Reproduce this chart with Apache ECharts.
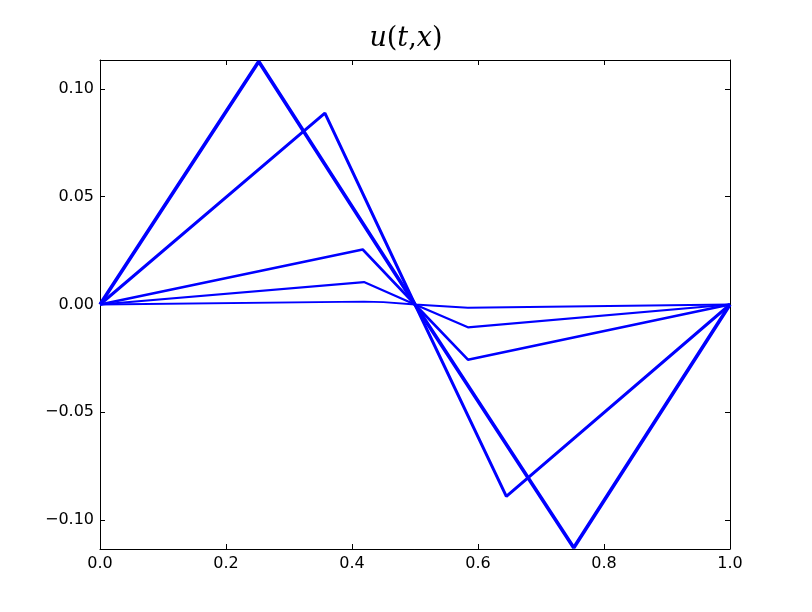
<!DOCTYPE html>
<html><head><meta charset="utf-8">
<script src="https://cdn.jsdelivr.net/npm/echarts@6/dist/echarts.min.js"></script>
<style>html,body{margin:0;padding:0;background:#fff}#c{width:812px;height:612px}</style>
</head><body><div id="c"></div>
<script>
const xTicks = [0, 0.2, 0.4, 0.6, 0.8, 1.0];
const yTicks = [-0.10, -0.05, 0.00, 0.05, 0.10];
const line1 = [[0,0],[0.252,0.1127],[0.5,0],[0.752,-0.1128],[1,0]];
const line2 = [[0,0],[0.357,0.0888],[0.5,0],[0.645,-0.0890],[1,0]];
const line3 = [[0,0],[0.417,0.0255],[0.5,0],[0.584,-0.0256],[1,0]];
const line4 = [[0,0],[0.419,0.0104],[0.5,0],[0.584,-0.0106],[1,0]];
const line5 = [[0,0],[0.419,0.0013],[0.45,0.0011],[0.5,0],[0.584,-0.0015],[1,0]];
const lines = [line1, line2, line3, line4, line5];
const widths = [3.6, 3, 2.6, 2.2, 1.8];
const fmtY = v => (v < 0 ? '\u2212' : '') + Math.abs(v).toFixed(2);
const fmtX = v => v.toFixed(1);
const font = 'DejaVu Sans';
const axLine = {show:true, onZero:false, lineStyle:{color:'#000', width:1}};
const tick = {show:true, inside:true, length:5, lineStyle:{color:'#000'}};
const chart = echarts.init(document.getElementById('c'));
chart.setOption({
  animation:false,
  title:{text:'{i|u}{n|(}{i|t}{n|,}{i|x}{n|)}', left:'center', top:20,
    textStyle:{fontWeight:'normal', rich:{i:{fontFamily:'DejaVu Serif',fontStyle:'italic',fontWeight:'normal',fontSize:27,color:'#000'},
                     n:{fontFamily:'DejaVu Serif',fontWeight:'normal',fontSize:27,color:'#000'}}}},
  grid:{left:100, right:82, top:60, bottom:63},
  xAxis:[
    {type:'value', min:0, max:1, interval:0.2, axisLine:axLine, axisTick:tick, splitLine:{show:false},
     axisLabel:{formatter:fmtX, color:'#000', fontFamily:font, fontSize:16, margin:7}},
    {type:'value', position:'top', min:0, max:1, interval:0.2, axisLine:axLine, axisTick:tick, splitLine:{show:false},
     axisLabel:{show:false}}
  ],
  yAxis:[
    {type:'value', min:-0.1134, max:0.1134, axisLine:axLine,
     axisTick:Object.assign({}, tick, {customValues:yTicks}), splitLine:{show:false},
     axisLabel:{customValues:yTicks, formatter:fmtY, color:'#000', fontFamily:font, fontSize:16, margin:6}},
    {type:'value', position:'right', min:-0.1134, max:0.1134, axisLine:axLine,
     axisTick:Object.assign({}, tick, {customValues:yTicks}), splitLine:{show:false},
     axisLabel:{show:false}}
  ],
  series: lines.map((d,i)=>({type:'line', data:d, showSymbol:false, symbol:'none',
    lineStyle:{color:'#0000ff', width:widths[i]}, z:10-i}))
});
</script></body></html>
